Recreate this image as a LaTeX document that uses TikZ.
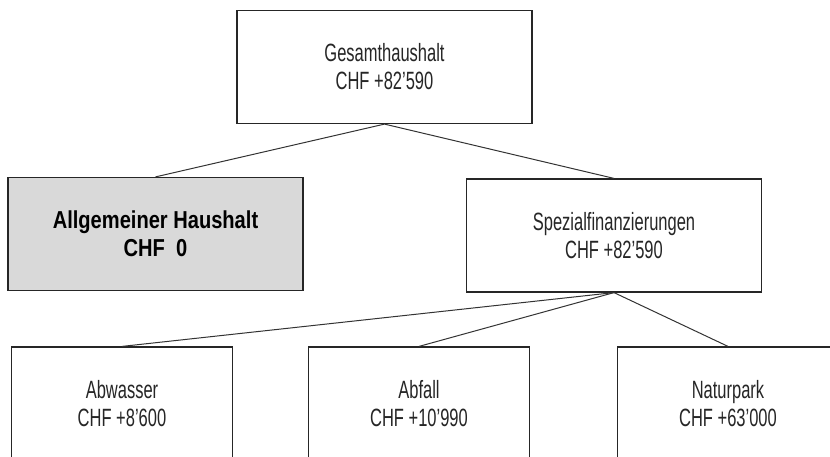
\documentclass[tikz,border=0pt]{standalone}
\usepackage{fontspec}
\setmainfont{Liberation Sans}[FakeStretch=0.66]
\newfontfamily\boldnarrow{Liberation Sans Bold}[FakeStretch=0.82]
\usepackage{tikz}
\usetikzlibrary{positioning}
\usepackage{xcolor}
\definecolor{boxgray}{HTML}{D9D9D9}

\begin{document}
\begin{tikzpicture}[x=1pt, y=-1pt, line width=1.2pt,
  budget/.style={rectangle, draw=black!85, fill=white, align=center,
        minimum width=295pt, minimum height=113pt, inner sep=0pt,
        font=\fontsize{25}{28}\selectfont, text=black!85},
  leaf/.style={budget, minimum width=221pt},
  general/.style={budget, fill=boxgray, text=black,
        font=\boldnarrow\fontsize{24.5}{28}\selectfont},
  link/.style={draw=black!80, line width=1pt}]
\useasboundingbox (0,0) rectangle (830,457);
\clip (0,0) rectangle (830,457);
% ---------------- top level ----------------
\node[budget] (total) at (384.5,67) {Gesamthaushalt\\CHF +82'590};
% ---------------- second level ----------------
\node[general] (allg) at (155.5,234) {Allgemeiner Haushalt\\CHF\ \ 0};
\node[budget] (spez) at (614,235.5) {Spezialfinanzierungen\\CHF +82'590};
% ---------------- special funds ----------------
\node[leaf] (abw) at (122,403.5) {Abwasser\\CHF +8'600};
\node[leaf] (abf) at (419,403.5) {Abfall\\CHF +10'990};
\node[leaf] (natur) at (728,403.5) {Naturpark\\CHF +63'000};
% connectors
\draw[link] (total.south) -- (allg.north);
\draw[link] (total.south) -- (spez.north);
\draw[link] (spez.south) -- (abw.north);
\draw[link] (spez.south) -- (abf.north);
\draw[link] (spez.south) -- (natur.north);
\end{tikzpicture}
\end{document}
